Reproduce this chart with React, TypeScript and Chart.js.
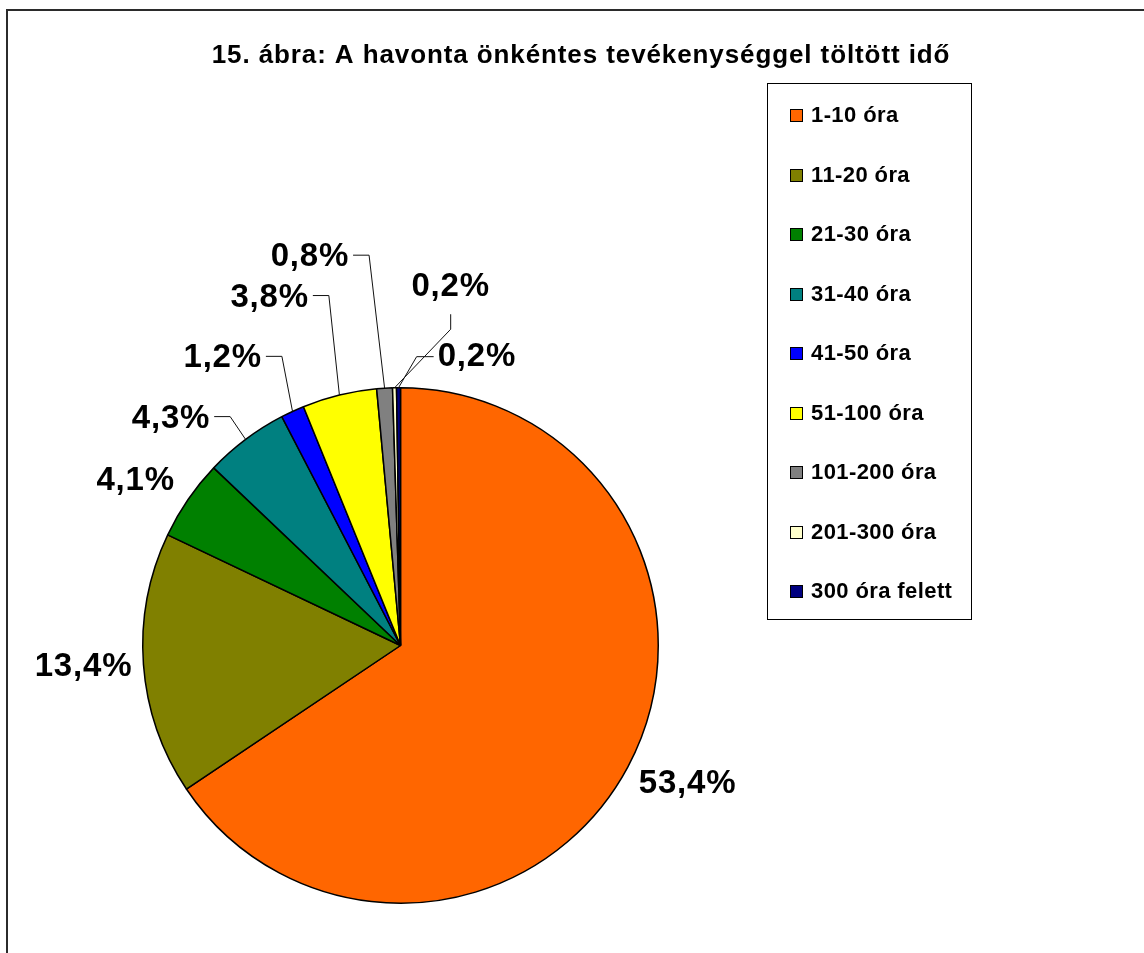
import React, { useEffect, useRef } from "react";
import { Chart, registerables } from "chart.js";

Chart.register(...registerables);

const TITLE = "15. ábra: A havonta önkéntes tevékenységgel töltött idő";
const categories = [
  "1-10 óra",
  "11-20 óra",
  "21-30 óra",
  "31-40 óra",
  "41-50 óra",
  "51-100 óra",
  "101-200 óra",
  "201-300 óra",
  "300 óra felett",
];
const values = [53.4, 13.4, 4.1, 4.3, 1.2, 3.8, 0.8, 0.2, 0.2];
const colors = [
  "#FF6600",
  "#808000",
  "#008000",
  "#008080",
  "#0000FF",
  "#FFFF00",
  "#808080",
  "#FFFFCC",
  "#000080",
];

// label placement styling (relative to each slice's mid angle / outer radius)
const labelAngleShift = [-2.3, 0.25, -2.65, -8.4, -7.0, -6.9, -9.6, 9.3, 15.25];
const labelDistExtra = [61, 60, 54, 65, 80, 114, 141, 104, 41];
const leaderSide = ["none", "none", "none", "right", "right", "right", "right", "bottom", "left"];

const FONT = '"Liberation Sans", Arial, sans-serif';

const fmt = (v: number) => v.toFixed(1).replace(".", ",") + "%";

const decorPlugin = {
  id: "decor",
  beforeDraw(chart: any) {
    const ctx = chart.ctx as CanvasRenderingContext2D;
    ctx.save();
    ctx.fillStyle = "#ffffff";
    ctx.fillRect(0, 0, chart.width, chart.height);
    ctx.fillStyle = "#2b2b2b";
    ctx.fillRect(6, 9, chart.width, 2);
    ctx.fillRect(6, 9, 2, chart.height);
    ctx.fillStyle = "#000";
    ctx.font = `bold 26px ${FONT}`;
    (ctx as any).letterSpacing = "0.9px";
    ctx.textAlign = "center";
    ctx.textBaseline = "middle";
    ctx.fillText(TITLE, 581, 56);
    ctx.restore();
  },
  afterDatasetsDraw(chart: any) {
    const ctx = chart.ctx as CanvasRenderingContext2D;
    const meta = chart.getDatasetMeta(0);
    ctx.save();
    // data labels with leader lines
    ctx.font = `bold 33px ${FONT}`;
    (ctx as any).letterSpacing = "0.8px";
    ctx.textAlign = "center";
    ctx.textBaseline = "middle";
    meta.data.forEach((arc: any, i: number) => {
      const { x, y, startAngle, endAngle, outerRadius } = arc.getProps(
        ["x", "y", "startAngle", "endAngle", "outerRadius"],
        true
      );
      const mid = (startAngle + endAngle) / 2;
      const a = mid + (labelAngleShift[i] * Math.PI) / 180;
      const d = outerRadius + labelDistExtra[i];
      const lx = x + Math.cos(a) * d;
      const ly = y + Math.sin(a) * d;
      const text = fmt(values[i]);
      const w = ctx.measureText(text).width;
      const ex = x + Math.cos(mid) * outerRadius;
      const ey = y + Math.sin(mid) * outerRadius;
      const side = leaderSide[i];
      if (side !== "none") {
        let sx = 0, sy = 0, bx = 0, by = 0;
        if (side === "right") {
          sx = lx + w / 2 + 4;
          sy = ly - 2;
          bx = sx + 16;
          by = sy;
        } else if (side === "left") {
          sx = lx - w / 2 - 4;
          sy = ly;
          bx = sx - 17;
          by = sy;
        } else {
          sx = lx;
          sy = ly + 27;
          bx = sx;
          by = ly + 42;
        }
        ctx.strokeStyle = "#111";
        ctx.lineWidth = 1;
        ctx.beginPath();
        ctx.moveTo(sx, sy);
        ctx.lineTo(bx, by);
        ctx.lineTo(ex, ey);
        ctx.stroke();
      }
      ctx.fillStyle = "#000";
      ctx.fillText(text, lx, ly);
    });

    // legend
    ctx.strokeStyle = "#000";
    ctx.lineWidth = 1;
    ctx.strokeRect(767.5, 83.5, 204, 536);
    ctx.font = `bold 22px ${FONT}`;
    (ctx as any).letterSpacing = "0.4px";
    ctx.textAlign = "left";
    ctx.textBaseline = "middle";
    categories.forEach((c, i) => {
      const yy = Math.round(115 + i * 59.5);
      ctx.fillStyle = colors[i];
      ctx.fillRect(790, yy - 6, 12, 12);
      ctx.strokeStyle = "#000";
      ctx.strokeRect(790.5, yy - 5.5, 12, 12);
      ctx.fillStyle = "#000";
      ctx.fillText(c, 811, yy + 1);
    });
    ctx.restore();
  },
};

export default function App() {
  const ref = useRef<HTMLCanvasElement>(null);
  useEffect(() => {
    document.body.style.margin = "0";
    document.body.style.overflow = "hidden";
    const chart = new Chart(ref.current as HTMLCanvasElement, {
      type: "pie",
      data: {
        labels: categories,
        datasets: [
          {
            data: values,
            backgroundColor: colors,
            borderColor: "#000",
            borderWidth: 1.5,
          },
        ],
      },
      options: {
        responsive: false,
        animation: false,
        devicePixelRatio: 1,
        layout: { padding: { left: 142, top: 387, right: 485, bottom: 49 } },
        plugins: {
          legend: { display: false },
          tooltip: { enabled: false },
          title: { display: false },
        },
        events: [],
      },
      plugins: [decorPlugin],
    });
    return () => chart.destroy();
  }, []);
  return (
    <div style={{ width: 1144, height: 953 }}>
      <canvas ref={ref} width={1144} height={953} style={{ display: "block" }} />
    </div>
  );
}
